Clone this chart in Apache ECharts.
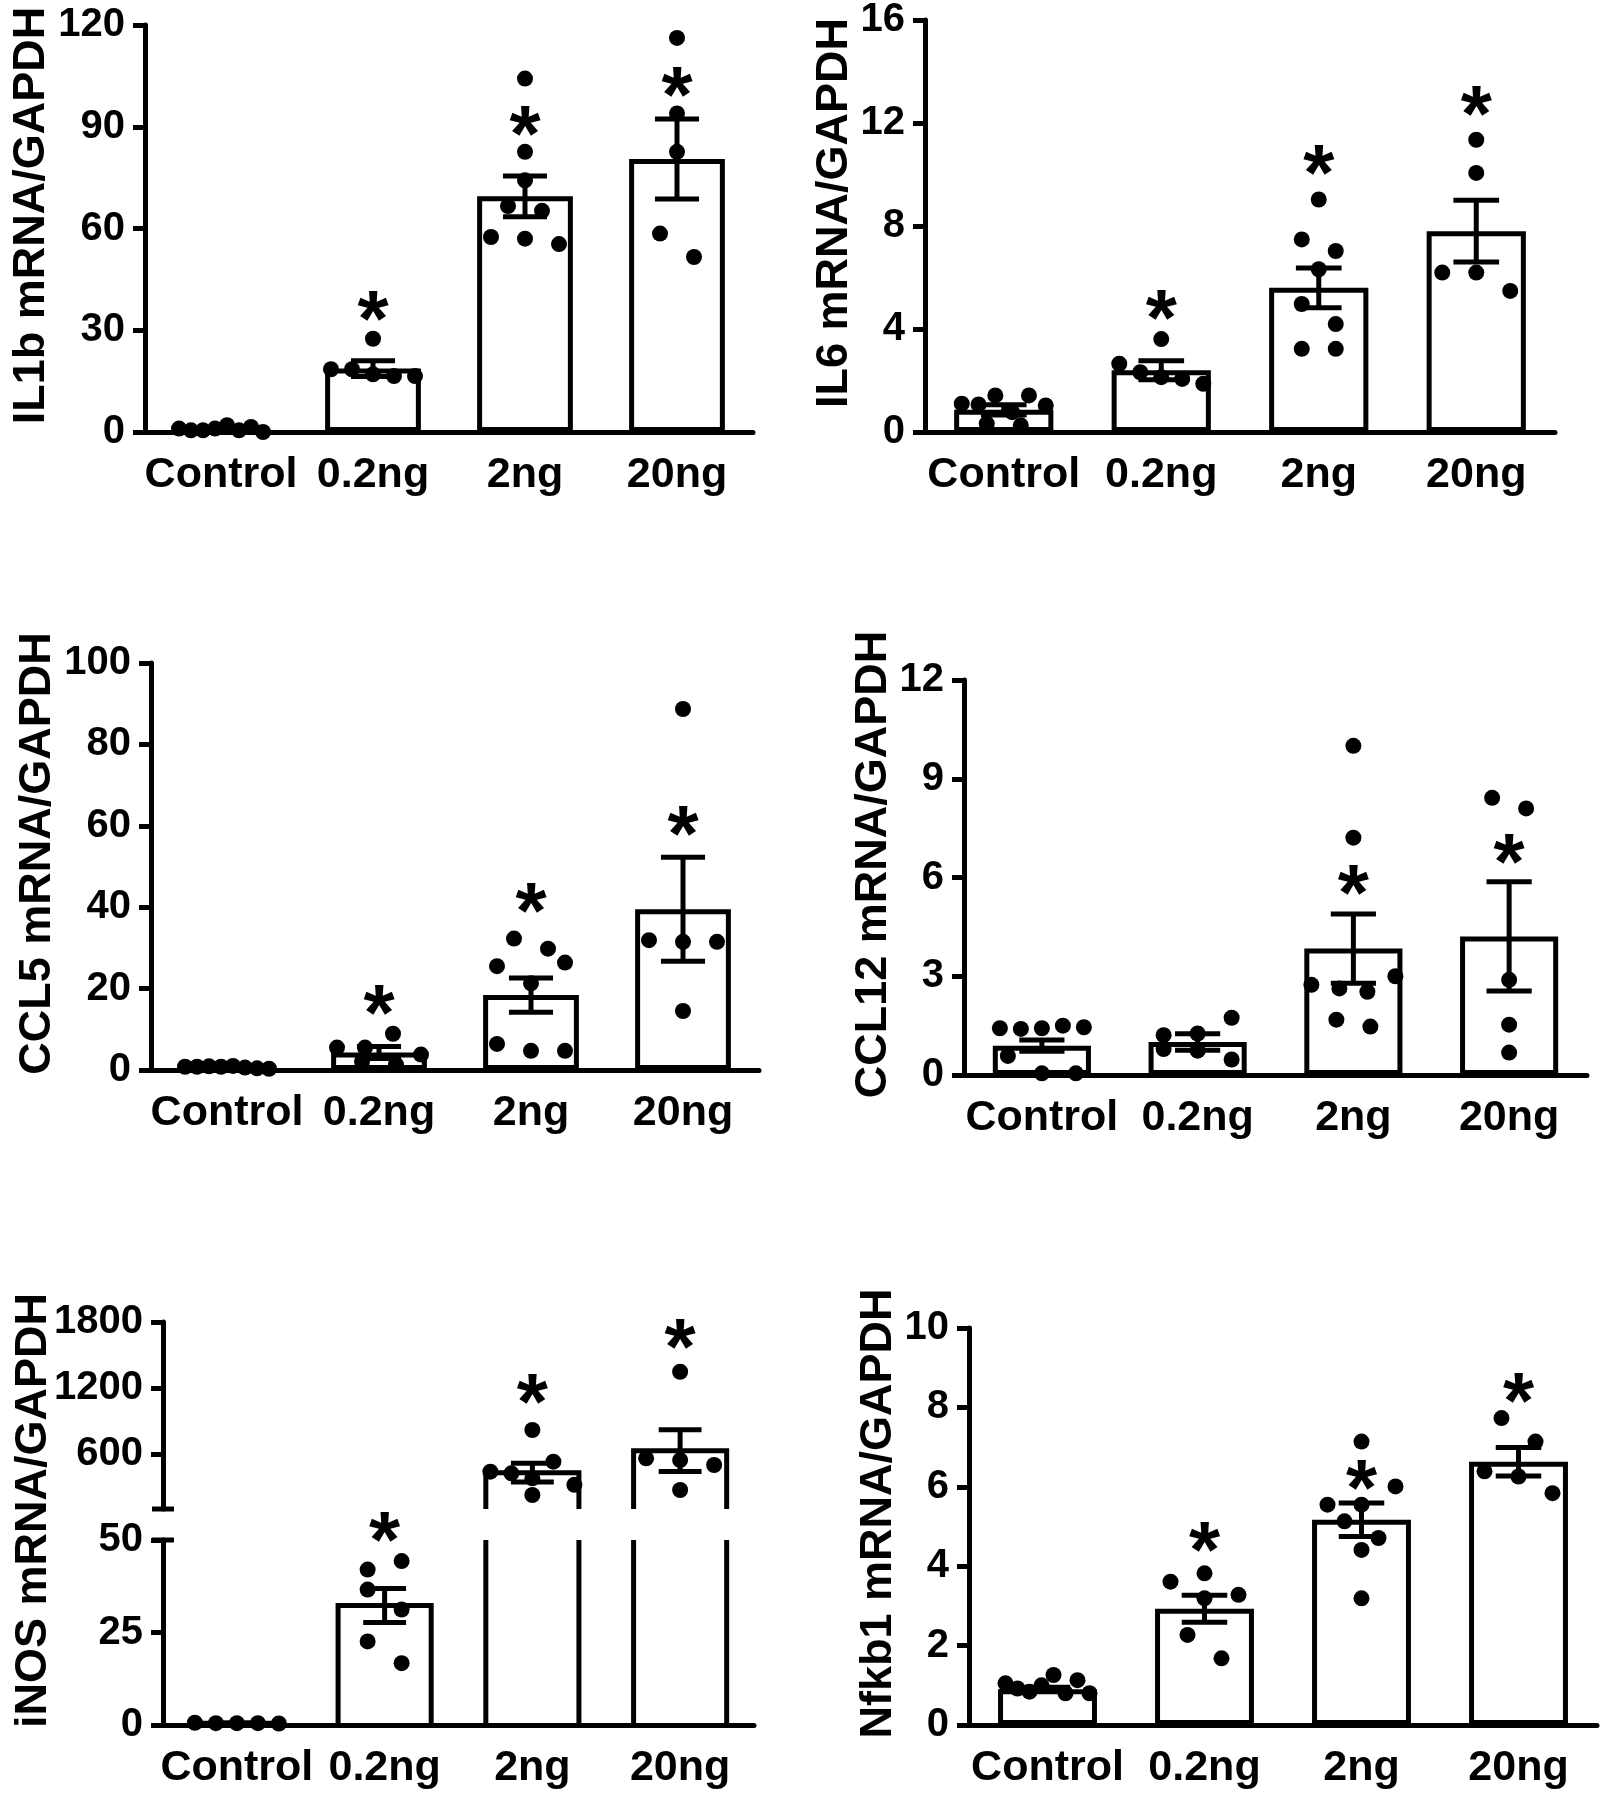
<!DOCTYPE html>
<html><head><meta charset="utf-8">
<script src="https://cdn.jsdelivr.net/npm/echarts@6/dist/echarts.min.js"></script>
<style>html,body{margin:0;padding:0;background:#fff}#c{width:1601px;height:1800px}</style>
</head><body><div id="c"></div>
<script>
// ---------------- DATA ----------------
const categories = ['Control', '0.2ng', '2ng', '20ng'];

const il1bMean = [0.9, 18.7, 69.5, 80.5];
const il1bSem = [0.2, 2.3, 6.0, 11.8];
const il1bPoints = [[1.0, 0.5, 0.5, 1.0, 2.0, 0.5, 1.5, 0.0], [27.5, 18.5, 18.5, 17.0, 16.5, 16.5], [104.2, 82.6, 74.2, 66.6, 65.2, 57.5, 57.0, 55.4], [116.2, 93.9, 82.6, 58.5, 51.6]];
const il1bStars = [null, 36.9, 91.4, 103];

const il6Mean = [0.86, 2.4, 5.6, 7.8];
const il6Sem = [0.2, 0.37, 0.77, 1.2];
const il6Points = [[1.10, 1.07, 1.42, 0.77, 1.42, 1.03, 0.32, 0.26], [3.61, 2.65, 2.32, 2.13, 2.06, 1.87], [9.03, 7.48, 7.03, 6.32, 4.97, 4.19, 3.23, 3.23], [11.35, 10.06, 6.19, 6.19, 5.48]];
const il6Stars = [null, 4.9, 10.5, 12.8];

const ccl5Mean = [0.7, 4.3, 18.4, 39.5];
const ccl5Sem = [0.1, 1.5, 4.2, 12.8];
const ccl5Points = [[0.8, 0.8, 0.9, 0.8, 1.0, 0.6, 0.4, 0.3], [5.5, 5.5, 8.9, 3.8, 2.1, 1.3], [32.3, 29.8, 25.5, 21.3, 26.4, 6.4, 4.7, 4.7], [88.7, 31.9, 31.5, 31.5, 14.5]];
const ccl5Stars = [null, 17.0, 42.1, 60.9];

const ccl12Mean = [0.89, 1.0, 3.84, 4.21];
const ccl12Sem = [0.17, 0.25, 1.05, 1.66];
const ccl12Points = [[1.42, 1.40, 1.42, 1.50, 1.45, 0.58, 0.05, 0.05], [1.21, 1.26, 1.74, 0.79, 0.74, 0.47], [10.0, 7.21, 2.74, 2.63, 2.53, 3.0, 1.68, 1.47], [8.42, 8.1, 2.89, 1.53, 0.68]];
const ccl12Stars = [null, null, 5.9, 6.84];

const inosMean = [0.5, 32.3, 430, 630];
const inosSem = [0.05, 4.6, 85, 190];
const inosPoints = [[0.6, 0.5, 0.5, 0.5, 0.4], [42.0, 44.3, 36.6, 31.2, 22.6, 16.7], [818, 439, 424, 379, 530, 320, 227], [1348, 561, 545, 500, 273]];
const inosStars = [null, 53.2, 1182, 1682];
const inosHighTicks = [600, 1200, 1800];

const nfkbMean = [0.9, 2.93, 5.17, 6.63];
const nfkbSem = [0.05, 0.34, 0.42, 0.36];
const nfkbPoints = [[1.05, 0.92, 0.84, 1.0, 1.26, 0.8, 1.13, 0.8], [3.61, 3.82, 3.28, 3.19, 2.27, 1.68], [7.14, 5.55, 5.55, 6.01, 5.13, 4.71, 4.41, 3.19], [7.73, 7.14, 6.39, 6.26, 5.84]];
const nfkbStars = [null, 4.7, 6.26, 8.45];

// ---------------- LAYOUT / STYLE ----------------
const FONT = '"Liberation Sans", Arial, Helvetica, sans-serif';
const LW = 5;
const BAR_FRAC = 0.63;
const CAP_FRAC = 0.29;
const DOT = 16;
const STAR_SIZE = 80;
const TICK_FS = 40, CAT_FS = 43, NAME_FS = 45;

const panels = [
  {name: 'IL1b mRNA/GAPDH', mean: il1bMean, sem: il1bSem, pts: il1bPoints, stars: il1bStars, min: 0, max: 120, interval: 30,
   box: {left: 145, top: 25, width: 608, height: 407}, nameGap: 89},
  {name: 'IL6 mRNA/GAPDH', mean: il6Mean, sem: il6Sem, pts: il6Points, stars: il6Stars, min: 0, max: 16, interval: 4,
   box: {left: 925, top: 18, width: 630, height: 414}, nameGap: 58},
  {name: 'CCL5 mRNA/GAPDH', mean: ccl5Mean, sem: ccl5Sem, pts: ccl5Points, stars: ccl5Stars, min: 0, max: 100, interval: 20,
   box: {left: 151, top: 663, width: 608, height: 407}, nameGap: 87},
  {name: 'CCL12 mRNA/GAPDH', mean: ccl12Mean, sem: ccl12Sem, pts: ccl12Points, stars: ccl12Stars, min: 0, max: 12, interval: 3,
   box: {left: 964, top: 680, width: 623, height: 395}, nameGap: 67},
  {name: 'Nfkb1 mRNA/GAPDH', mean: nfkbMean, sem: nfkbSem, pts: nfkbPoints, stars: nfkbStars, min: 0, max: 10, interval: 2,
   box: {left: 969, top: 1328, width: 628, height: 397}, nameGap: 66}
];
const inosLayout = {left: 163, width: 591, upperTop: 1322, upperH: 187, lowerTop: 1540, lowerH: 185, nameGap: 107,
  upperMin: 100, upperMax: 1800, lowerMin: 0, lowerMax: 50, lowerInterval: 25};

// beeswarm-like row layout of the individual points (pixel offsets -> x units)
function swarm(vals, ppu, bandPx) {
  const T = 23.5, S = 34, W = 84;
  const idx = vals.map((v, i) => i).sort((a, b) => (vals[b] - vals[a]) || (a - b));
  const off = new Array(vals.length).fill(0);
  let k = 0;
  while (k < idx.length) {
    const anchor = vals[idx[k]];
    const row = [idx[k]];
    let j = k + 1;
    while (j < idx.length && (anchor - vals[idx[j]]) * ppu < T) { row.push(idx[j]); j++; }
    row.sort((a, b) => a - b);
    const n = row.length;
    const sp = n > 1 ? Math.min(S, W / (n - 1)) : 0;
    row.forEach((r, q) => { off[r] = (q - (n - 1) / 2) * sp; });
    k = j;
  }
  return off.map(o => o / bandPx);
}

const option = {
  animation: false,
  backgroundColor: '#fff',
  textStyle: {fontFamily: FONT},
  grid: [], xAxis: [], yAxis: [], series: []
};

const plainNum = v => String(v);
function yAxisBase(extra) {
  return Object.assign({
    type: 'value',
    axisLine: {show: true, onZero: false, lineStyle: {color: '#000', width: LW}},
    axisTick: {show: true, length: 12, lineStyle: {color: '#000', width: LW}},
    axisLabel: {color: '#000', fontSize: TICK_FS, fontWeight: 'bold', fontFamily: FONT, margin: 20, formatter: plainNum},
    splitLine: {show: false}
  }, extra);
}
function nameStyle() {
  return {color: '#000', fontSize: NAME_FS, fontWeight: 'bold', fontFamily: FONT, padding: [0, 0, 0, 26]};
}
function catAxis(g, show) {
  return {
    type: 'category', gridIndex: g, data: categories, show: show,
    axisLine: {show: true, onZero: false, lineStyle: {color: '#000', width: LW}},
    axisTick: {show: false},
    axisLabel: {interval: 0, color: '#000', fontSize: CAT_FS, fontWeight: 'bold', fontFamily: FONT, margin: 22},
    splitLine: {show: false}
  };
}
function valXAxis(g) {
  return {type: 'value', gridIndex: g, min: -0.5, max: 3.5, show: false, splitLine: {show: false},
    axisLine: {show: false, onZero: false}};
}
function errRender(params, api) {
  const i = api.value(0), m = api.value(1), s = api.value(2);
  const top = api.coord([i, m + s]);
  const bot = api.coord([i, Math.max(m - s, 0)]);
  const cw = api.size([1, 0])[0] * CAP_FRAC;
  const st = {stroke: '#000', lineWidth: LW};
  return {type: 'group', children: [
    {type: 'line', shape: {x1: top[0], y1: top[1], x2: bot[0], y2: bot[1]}, style: st},
    {type: 'line', shape: {x1: top[0] - cw / 2, y1: top[1], x2: top[0] + cw / 2, y2: top[1]}, style: st},
    {type: 'line', shape: {x1: bot[0] - cw / 2, y1: bot[1], x2: bot[0] + cw / 2, y2: bot[1]}, style: st}
  ]};
}
function starRender(params, api) {
  const p = api.coord([api.value(0), api.value(1)]);
  return {type: 'text', x: p[0], y: p[1] + 0.21 * STAR_SIZE, style: {
    text: '*', fill: '#000', fontSize: STAR_SIZE, fontWeight: 'bold', fontFamily: FONT, align: 'center', verticalAlign: 'middle'}};
}
function dotSeries(xIdx, yIdx, data) {
  return {type: 'scatter', xAxisIndex: xIdx, yAxisIndex: yIdx, data: data, symbolSize: DOT,
    itemStyle: {color: '#000', opacity: 1}, z: 5, silent: true, clip: false};
}

// ---------- regular panels ----------
panels.forEach(p => {
  const g = option.grid.length;
  option.grid.push(Object.assign({containLabel: false}, p.box));
  const xc = option.xAxis.length; option.xAxis.push(catAxis(g, true));
  const xv = option.xAxis.length; option.xAxis.push(valXAxis(g));
  const y = option.yAxis.length;
  option.yAxis.push(yAxisBase({gridIndex: g, min: p.min, max: p.max, interval: p.interval,
    name: p.name, nameLocation: 'middle', nameRotate: 90, nameGap: p.nameGap, nameTextStyle: nameStyle()}));
  option.series.push({type: 'bar', xAxisIndex: xc, yAxisIndex: y, data: p.mean, barWidth: (BAR_FRAC * 100) + '%',
    itemStyle: {color: '#fff', borderColor: '#000', borderWidth: LW}, z: 2, silent: true});
  option.series.push({type: 'custom', xAxisIndex: xc, yAxisIndex: y, renderItem: errRender, z: 3, silent: true,
    data: p.mean.map((m, i) => [i, m, p.sem[i]])});
  const ppu = p.box.height / (p.max - p.min), band = p.box.width / 4;
  const dots = [];
  p.pts.forEach((vals, i) => {
    const off = swarm(vals, ppu, band);
    vals.forEach((v, k) => dots.push([i + off[k], v]));
  });
  option.series.push(dotSeries(xv, y, dots));
  option.series.push({type: 'custom', xAxisIndex: xc, yAxisIndex: y, renderItem: starRender, z: 6, silent: true,
    data: p.stars.map((v, i) => v == null ? null : [i, v]).filter(d => d)});
});

// ---------- iNOS panel with broken axis ----------
(function () {
  const L = inosLayout;
  const gU = option.grid.length;
  option.grid.push({left: L.left, top: L.upperTop, width: L.width, height: L.upperH});
  const gL = option.grid.length;
  option.grid.push({left: L.left, top: L.lowerTop, width: L.width, height: L.lowerH});
  const gT = option.grid.length;
  option.grid.push({left: L.left, top: L.upperTop, width: L.width, height: L.lowerTop + L.lowerH - L.upperTop});

  const xcU = option.xAxis.length; option.xAxis.push(catAxis(gU, false));
  const xvU = option.xAxis.length; option.xAxis.push(valXAxis(gU));
  const xcL = option.xAxis.length; option.xAxis.push(catAxis(gL, true));
  const xvL = option.xAxis.length; option.xAxis.push(valXAxis(gL));
  const xvT = option.xAxis.length; option.xAxis.push(valXAxis(gT));

  const yU = option.yAxis.length;
  option.yAxis.push(yAxisBase({gridIndex: gU, min: L.upperMin, max: L.upperMax,
    axisTick: {show: true, length: 12, lineStyle: {color: '#000', width: LW}, customValues: inosHighTicks},
    axisLabel: {color: '#000', fontSize: TICK_FS, fontWeight: 'bold', fontFamily: FONT, margin: 20, formatter: plainNum, customValues: inosHighTicks}}));
  const yL = option.yAxis.length;
  option.yAxis.push(yAxisBase({gridIndex: gL, min: L.lowerMin, max: L.lowerMax, interval: L.lowerInterval}));
  const yT = option.yAxis.length;
  option.yAxis.push({type: 'value', gridIndex: gT, min: 0, max: 1, show: true,
    axisLine: {show: false, onZero: false}, axisTick: {show: false}, axisLabel: {show: false}, splitLine: {show: false},
    name: 'iNOS mRNA/GAPDH', nameLocation: 'middle', nameRotate: 90, nameGap: L.nameGap, nameTextStyle: nameStyle()});

  const isLow = v => v <= L.lowerMax;
  const st = {stroke: '#000', lineWidth: LW, fill: null};
  // bars (outline), lower part
  option.series.push({type: 'custom', xAxisIndex: xcL, yAxisIndex: yL, z: 2, silent: true,
    data: inosMean.map((m, i) => [i, m]),
    renderItem: function (params, api) {
      const i = api.value(0), v = api.value(1);
      const bw = api.size([1, 0])[0] * BAR_FRAC;
      const b = api.coord([i, L.lowerMin]);
      const t = api.coord([i, Math.min(v, L.lowerMax)]);
      const xl = b[0] - bw / 2, xr = b[0] + bw / 2;
      if (isLow(v)) {
        return {type: 'polyline', shape: {points: [[xl, b[1]], [xl, t[1]], [xr, t[1]], [xr, b[1]]]}, style: st};
      }
      return {type: 'group', children: [
        {type: 'line', shape: {x1: xl, y1: b[1], x2: xl, y2: t[1]}, style: st},
        {type: 'line', shape: {x1: xr, y1: b[1], x2: xr, y2: t[1]}, style: st}]};
    }});
  // bars, upper part
  option.series.push({type: 'custom', xAxisIndex: xcU, yAxisIndex: yU, z: 2, silent: true,
    data: inosMean.map((m, i) => [i, m]).filter(d => d[1] > L.upperMin),
    renderItem: function (params, api) {
      const i = api.value(0), v = api.value(1);
      const bw = api.size([1, 0])[0] * BAR_FRAC;
      const b = api.coord([i, L.upperMin]);
      const t = api.coord([i, v]);
      const xl = b[0] - bw / 2, xr = b[0] + bw / 2;
      return {type: 'polyline', shape: {points: [[xl, b[1]], [xl, t[1]], [xr, t[1]], [xr, b[1]]]}, style: st};
    }});
  // error bars
  const errData = inosMean.map((m, i) => [i, m, inosSem[i]]);
  option.series.push({type: 'custom', xAxisIndex: xcL, yAxisIndex: yL, renderItem: errRender, z: 3, silent: true,
    data: errData.filter(d => isLow(d[1]))});
  option.series.push({type: 'custom', xAxisIndex: xcU, yAxisIndex: yU, renderItem: errRender, z: 3, silent: true,
    data: errData.filter(d => !isLow(d[1]))});
  // dots
  const band = L.width / 4;
  const ppuL = L.lowerH / (L.lowerMax - L.lowerMin), ppuU = L.upperH / (L.upperMax - L.upperMin);
  const dL = [], dU = [];
  inosPoints.forEach((vals, i) => {
    const low = vals.every(isLow);
    const off = swarm(vals, low ? ppuL : ppuU, band);
    vals.forEach((v, k) => (low ? dL : dU).push([i + off[k], v]));
  });
  option.series.push(dotSeries(xvL, yL, dL));
  option.series.push(dotSeries(xvU, yU, dU));
  // stars
  const sd = inosStars.map((v, i) => v == null ? null : [i, v]).filter(d => d);
  option.series.push({type: 'custom', xAxisIndex: xcL, yAxisIndex: yL, renderItem: starRender, z: 6, silent: true,
    data: sd.filter(d => d[1] < L.upperMin)});
  option.series.push({type: 'custom', xAxisIndex: xcU, yAxisIndex: yU, renderItem: starRender, z: 6, silent: true,
    data: sd.filter(d => d[1] >= L.upperMin)});
  // axis break caps
  const capRender = function (params, api) {
    const p = api.coord([api.value(0), api.value(1)]);
    return {type: 'line', shape: {x1: p[0] - 11, y1: p[1], x2: p[0] + 11, y2: p[1]}, style: {stroke: '#000', lineWidth: LW}};
  };
  option.series.push({type: 'custom', xAxisIndex: xvU, yAxisIndex: yU, renderItem: capRender, z: 6, silent: true,
    data: [[-0.5, L.upperMin]]});
  option.series.push({type: 'custom', xAxisIndex: xvL, yAxisIndex: yL, renderItem: capRender, z: 6, silent: true,
    data: [[-0.5, L.lowerMax]]});
})();

const chart = echarts.init(document.getElementById('c'), null, {renderer: 'canvas', width: 1601, height: 1800});
chart.setOption(option);
</script>
</body></html>
